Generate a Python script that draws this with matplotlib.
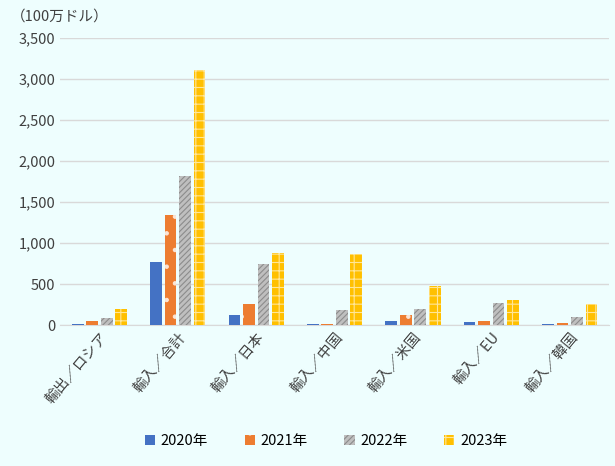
import matplotlib
matplotlib.use("Agg")
import matplotlib.pyplot as plt
import numpy as np

plt.rcParams['font.family'] = ['Noto Sans CJK JP', 'DejaVu Sans']
plt.rcParams['hatch.linewidth'] = 0.8

categories = ["輸出／ロシア", "輸入／合計", "輸入／日本", "輸入／中国", "輸入／米国", "輸入／EU", "輸入／韓国"]
series_names = ["2020年", "2021年", "2022年", "2023年"]
v2020 = [15, 770, 125, 15, 55, 40, 15]
v2021 = [50, 1340, 260, 15, 125, 50, 25]
v2022 = [85, 1820, 740, 180, 195, 270, 100]
v2023 = [200, 3110, 880, 870, 475, 305, 260]
values = [v2020, v2021, v2022, v2023]

bg = '#EEFEFE'
fig = plt.figure(figsize=(6.15, 4.66), dpi=100, facecolor=bg)
ax = fig.add_axes([0.098, 0.302, 0.892, 0.617], facecolor=bg)

styles = [
    dict(color='#4472C4', edgecolor='#4472C4', hatch=None),
    dict(color='#ED7D31', edgecolor='#FBE5D6', hatch='.'),
    dict(color='#BFBFBF', edgecolor='#8C8C8C', hatch='//////'),
    dict(color='#FFC000', edgecolor='#FFE699', hatch='++'),
]
x = np.arange(len(categories))
step = 0.185
for i, (name, vals) in enumerate(zip(series_names, values)):
    s = styles[i]
    ax.bar(x + (i - 1.5) * step, vals, 0.15, color=s['color'], edgecolor=s['edgecolor'],
           hatch=s['hatch'], linewidth=0, label=name, zorder=3)

ax.set_ylim(0, 3500)
ax.set_xlim(-0.5, len(categories) - 0.5)
ax.set_yticks(np.arange(0, 3501, 500))
ax.set_yticklabels([f"{v:,}" for v in range(0, 3501, 500)], fontsize=10.5, color='#404040')
ax.grid(axis='y', color='#D9D9D9', linewidth=1, zorder=0)
ax.set_xticks(x)
ax.set_xticklabels(categories, rotation=50, ha='right', rotation_mode='anchor', fontsize=10.5, color='#404040')
ax.tick_params(length=0)
for sp in ['top', 'right', 'left']:
    ax.spines[sp].set_visible(False)
ax.spines['bottom'].set_color('#D9D9D9')
fig.text(0.018, 0.955, "（100万ドル）", fontsize=10.5, color='#404040')
fig.legend(loc='lower center', bbox_to_anchor=(0.53, 0.01), ncol=4, frameon=False,
           fontsize=10.5, handlelength=0.7, handleheight=0.7, columnspacing=2.5, handletextpad=0.4)
fig.savefig("out.png", dpi=100, facecolor=bg)
